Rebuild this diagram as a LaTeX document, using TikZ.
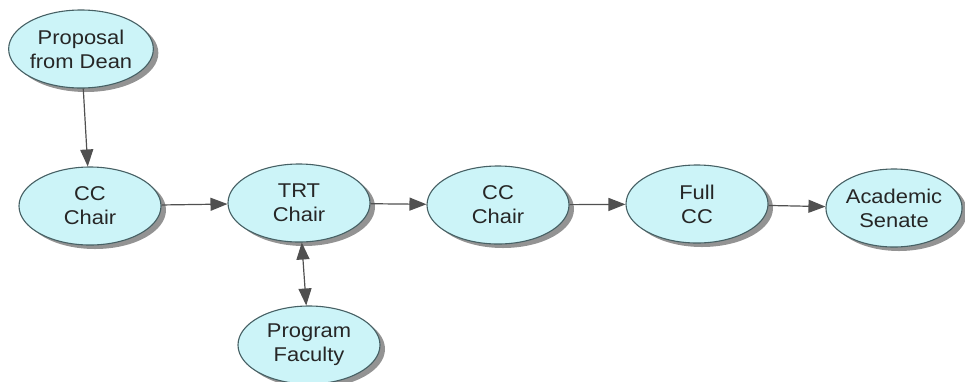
\documentclass[tikz,border=0pt]{standalone}
\usepackage{fontspec}
\setmainfont{Liberation Sans}[FakeStretch=1.1]
\usetikzlibrary{shapes.geometric,shadows,arrows.meta}
\definecolor{bubblefill}{RGB}{204,244,248}
\definecolor{bubbleline}{RGB}{70,96,100}
\definecolor{flowgray}{RGB}{80,80,80}
\tikzset{
  bubble/.style={ellipse,draw=bubbleline,line width=1.1bp,fill=bubblefill,
    minimum width=142bp,minimum height=78bp,inner sep=0pt,align=center,
    text=black!85,font=\fontsize{20}{24}\selectfont,
    drop shadow={shadow xshift=5bp,shadow yshift=-4bp,fill=black!50,opacity=0.85}},
  flow/.style={draw=flowgray,line width=1.2bp,-{Triangle[length=17bp,width=13bp]}},
  twoway/.style={flow,{Triangle[length=17bp,width=13bp]}-{Triangle[length=17bp,width=13bp]}}
}
\begin{document}
\begin{tikzpicture}[x=1bp,y=1bp]
  \useasboundingbox (0,0) rectangle (965,-381);
  \node[bubble] (dean) at (81,-49) {Proposal\\from Dean};
  \node[bubble] (cc1) at (90,-206) {CC\\Chair};
  \node[bubble] (trt) at (299,-203) {TRT\\Chair};
  \node[bubble] (cc2) at (498,-205) {CC\\Chair};
  \node[bubble] (full) at (697,-204) {Full\\CC};
  \node[bubble,minimum width=136bp] (senate) at (894,-208) {Academic\\Senate};
  \node[bubble] (faculty) at (309,-345) {Program\\Faculty};
  \draw[flow] (dean) -- (cc1);
  \draw[flow] (cc1) -- (trt);
  \draw[flow] (trt) -- (cc2);
  \draw[flow] (cc2) -- (full);
  \draw[flow] (full) -- (senate);
  \draw[twoway] (trt) -- (faculty);
\end{tikzpicture}
\end{document}
